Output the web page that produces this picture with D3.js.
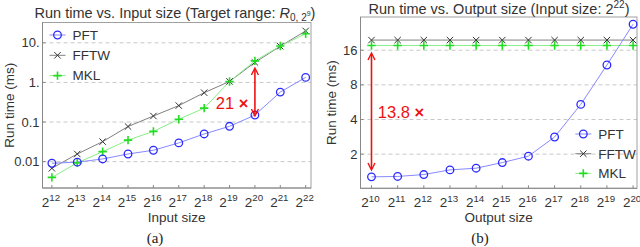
<!DOCTYPE html>
<html><head><meta charset="utf-8">
<script src="https://cdn.jsdelivr.net/npm/d3@7"></script>
<style>
body{margin:0;background:#fff;}
svg{display:block;font-family:"Liberation Sans",Arial,sans-serif;}
</style></head>
<body><svg id="c" width="640" height="247"></svg>
<script>
// ---- data: chart (a) ----
const expA = [12,13,14,15,16,17,18,19,20,21,22];
const pftA  = [0.0091,0.0097,0.0117,0.0156,0.0194,0.0297,0.050,0.078,0.150,0.57,1.34];
const fftwA = [0.0068,0.0156,0.032,0.077,0.142,0.26,0.55,1.06,3.2,8.2,20];
const mklA  = [0.0040,0.0093,0.0179,0.035,0.058,0.118,0.224,1.06,3.5,8.3,17];
const yTicksA = [0.01,0.1,1,10];
const yTickLabelsA = ["0.01","0.1","1.","10."];
// ---- data: chart (b) ----
const expB = [10,11,12,13,14,15,16,17,18,19,20];
const pftB  = [1.27,1.28,1.33,1.46,1.51,1.69,1.92,2.82,5.41,11.9,26.9];
const fftwB = [19.6,19.6,19.6,19.6,19.6,19.6,19.6,19.6,19.6,19.6,19.6];
const mklB  = [17.6,17.6,17.6,17.6,17.6,17.6,17.6,17.6,17.6,17.6,17.6];
const yTicksB = [2,4,8,16];
const yTickLabelsB = ["2","4","8","16"];
const seriesNames = ["PFT","FFTW","MKL"];

const svg = d3.select("#c");
const colors = {
  PFT:{line:"#8888ff", mark:"#2a2aff"},
  FFTW:{line:"#808080", mark:"#333"},
  MKL:{line:"#88ee88", mark:"#22dd22"}
};
const txt = "#333";

function marker(g, name, x, y){
  const c = colors[name].mark;
  if(name==="PFT"){
    g.append("circle").attr("cx",x).attr("cy",y).attr("r",3.8)
     .attr("fill","none").attr("stroke",c).attr("stroke-width",1.3);
  } else if(name==="FFTW"){
    const s=3.2;
    g.append("path").attr("d",`M${x-s},${y-s}L${x+s},${y+s}M${x-s},${y+s}L${x+s},${y-s}`)
     .attr("stroke",c).attr("stroke-width",1);
  } else {
    const s=4.2;
    g.append("path").attr("d",`M${x-s},${y}L${x+s},${y}M${x},${y-s}L${x},${y+s}`)
     .attr("stroke",c).attr("stroke-width",1.6);
  }
}

function supLabel(g, x, y, base, exp, size){
  const t = g.append("text").attr("x",x).attr("y",y).attr("text-anchor","middle")
    .attr("font-size",size).attr("fill",txt);
  t.append("tspan").text(base);
  t.append("tspan").attr("dy",-size*0.42).attr("font-size",size*0.72).text(exp);
  return t;
}

function panel(opt){
  const g = svg.append("g");
  const {x0,x1,y0,y1} = opt.box;
  const x = d3.scaleLinear().domain(opt.xDomain).range([x0,x1]);
  const y = opt.yScale.range([y1,y0]);
  g.selectAll(".grid").data(opt.yTicks).join("line")
    .attr("x1",x0).attr("x2",x1).attr("y1",d=>y(d)).attr("y2",d=>y(d))
    .attr("stroke","#c8c8c8").attr("stroke-dasharray","4,3").attr("stroke-width",1);
  g.append("rect").attr("x",x0).attr("y",y0).attr("width",x1-x0).attr("height",y1-y0)
    .attr("fill","none").attr("stroke","#a0a0a0").attr("stroke-width",1);
  g.append("line").attr("x1",x0).attr("x2",x0).attr("y1",y0).attr("y2",y1).attr("stroke","#888");
  g.append("line").attr("x1",x0).attr("x2",x1).attr("y1",y1).attr("y2",y1).attr("stroke","#888");
  opt.yTicks.forEach((v,i)=>{
    g.append("line").attr("x1",x0).attr("x2",x0+3).attr("y1",y(v)).attr("y2",y(v)).attr("stroke","#888");
    g.append("text").attr("x",x0-3).attr("y",y(v)).attr("dy","0.35em").attr("text-anchor","end")
      .attr("font-size",13).attr("fill",txt).text(opt.yLabels[i]);
  });
  opt.exps.forEach(e=>{
    g.append("line").attr("x1",x(e)).attr("x2",x(e)).attr("y1",y1).attr("y2",y1-3).attr("stroke","#888");
    supLabel(g, x(e)-1, y1+19, "2", e, 13.5);
  });
  const line = d3.line().x(d=>x(d[0])).y(d=>y(d[1]));
  opt.series.forEach(([name,vals])=>{
    const pts = opt.exps.map((e,i)=>[e,vals[i]]);
    g.append("path").attr("d",line(pts)).attr("fill","none")
      .attr("stroke",colors[name].line).attr("stroke-width",1);
  });
  opt.series.forEach(([name,vals])=>{
    opt.exps.forEach((e,i)=>marker(g,name,x(e),y(vals[i])));
  });
  seriesNames.forEach((n,i)=>{
    const ly = opt.legend.y + i*opt.legend.dy;
    const lx = opt.legend.x;
    g.append("line").attr("x1",lx-8).attr("x2",lx+8).attr("y1",ly).attr("y2",ly)
      .attr("stroke",colors[n].line).attr("stroke-width",1);
    marker(g,n,lx,ly);
    g.append("text").attr("x",lx+15).attr("y",ly).attr("dy","0.36em")
      .attr("font-size",13.5).attr("fill",txt).text(n);
  });
  g.append("text").attr("x",(x0+x1)/2).attr("y",222).attr("text-anchor","middle")
    .attr("font-size",13.5).attr("fill",txt).text(opt.xLabel);
  g.append("text").attr("transform",`translate(${opt.yLabelX},${(y0+y1)/2}) rotate(-90)`)
    .attr("text-anchor","middle").attr("font-size",13.5).attr("fill",txt).text("Run time (ms)");
  g.append("text").attr("x",opt.capX).attr("y",243).attr("text-anchor","middle")
    .attr("font-family","'Liberation Serif','Times New Roman',serif").attr("font-size",15)
    .attr("fill","#222").text(opt.caption);
  return {g,x,y};
}

function arrow(g, xv, ya, yb){
  const c="#ee1111";
  g.append("line").attr("x1",xv).attr("x2",xv).attr("y1",ya+1).attr("y2",yb-1)
    .attr("stroke",c).attr("stroke-width",1.6);
  g.append("path").attr("d",`M${xv-3.5},${ya+7}L${xv},${ya}L${xv+3.5},${ya+7}`).attr("fill","none").attr("stroke",c).attr("stroke-width",1.4);
  g.append("path").attr("d",`M${xv-3.5},${yb-7}L${xv},${yb}L${xv+3.5},${yb-7}`).attr("fill","none").attr("stroke",c).attr("stroke-width",1.4);
}
function redLabel(g, x, y, s){
  const t = g.append("text").attr("x",x).attr("y",y).attr("dy","0.36em").attr("text-anchor","middle")
    .attr("font-size",16.5).attr("fill","#ee1111");
  t.append("tspan").text(s+" ");
  t.append("tspan").attr("font-weight","bold").text("\u00d7");
}

const A = panel({
  box:{x0:42.5,x1:311,y0:22.5,y1:188},
  xDomain:[11.63,22.21], exps:expA,
  yScale:d3.scaleLog().domain([0.00216,32.6]),
  yTicks:yTicksA, yLabels:yTickLabelsA,
  series:[["FFTW",fftwA],["MKL",mklA],["PFT",pftA]],
  legend:{x:57.5,y:35,dy:20.3},
  xLabel:"Input size", yLabelX:14, caption:"(a)", capX:155
});
{
  const t = A.g.append("text").attr("x",175).attr("y",18).attr("text-anchor","middle")
    .attr("font-size",14.5).attr("fill",txt);
  t.append("tspan").text("Run time vs. Input size (Target range: ");
  t.append("tspan").attr("font-style","italic").text("R");
  t.append("tspan").attr("dy",3).attr("font-size",10).text("0, 2");
  t.append("tspan").attr("dy",-5).attr("font-size",7).text("9");
  t.append("tspan").attr("dy",2).text(")");
}
arrow(A.g, A.x(20), 68, 116);
redLabel(A.g, 232, 103, "21");

const B = panel({
  box:{x0:360.5,x1:637,y0:17,y1:188.3},
  xDomain:[9.58,20.15], exps:expB,
  yScale:d3.scaleLog().base(2).domain([1.01,31.1]),
  yTicks:yTicksB, yLabels:yTickLabelsB,
  series:[["FFTW",fftwB],["MKL",mklB],["PFT",pftB]],
  legend:{x:583.3,y:134,dy:19.7},
  xLabel:"Output size", yLabelX:336, caption:"(b)", capX:480
});
{
  const t = B.g.append("text").attr("x",499).attr("y",14).attr("text-anchor","middle")
    .attr("font-size",14.5).attr("fill",txt);
  t.append("tspan").text("Run time vs. Output size (Input size: 2");
  t.append("tspan").attr("dy",-6).attr("font-size",10).text("22");
  t.append("tspan").attr("dy",6).text(")");
}
arrow(B.g, B.x(10), 53, 170);
redLabel(B.g, 401, 112, "13.8");
</script></body></html>
